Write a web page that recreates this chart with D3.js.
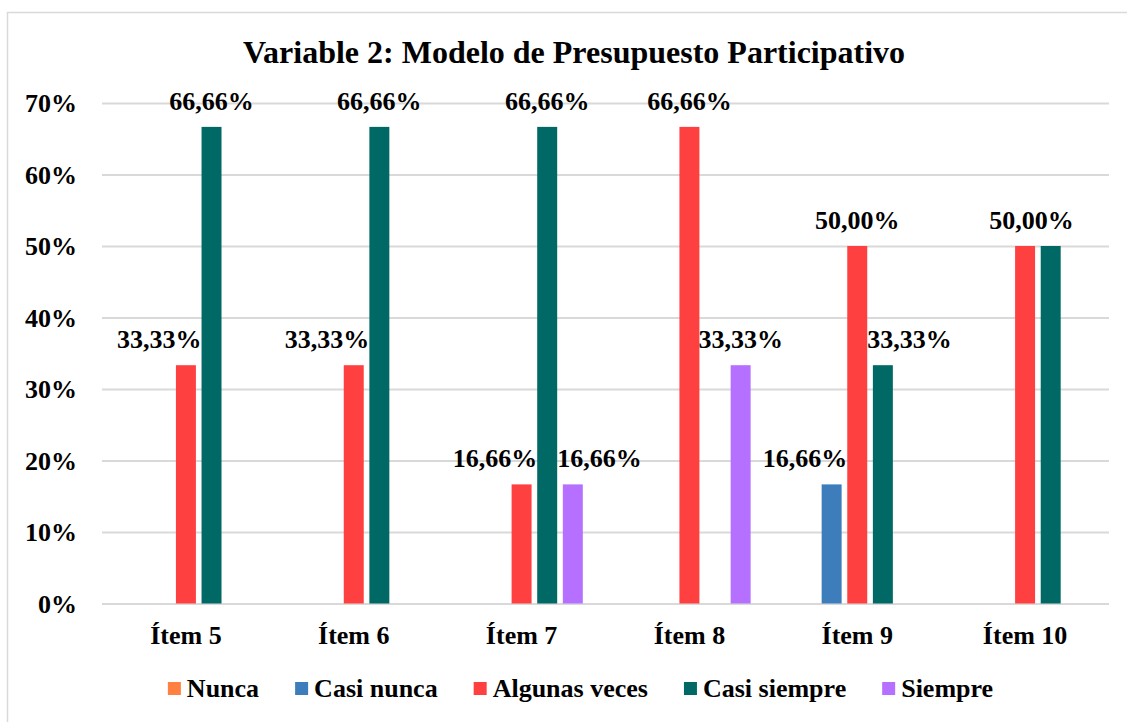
<!DOCTYPE html>
<html>
<head>
<meta charset="utf-8">
<script src="https://cdn.jsdelivr.net/npm/d3@7"></script>
<style>
  body { margin: 0; background: #fff; }
  svg { display: block; font-family: 'Liberation Serif', 'Times New Roman', serif; font-weight: bold; }
</style>
</head>
<body>
<div id="app"></div>
<script>
'use strict'

const title = 'Variable 2: Modelo de Presupuesto Participativo';
const items = ['Ítem 5', 'Ítem 6', 'Ítem 7', 'Ítem 8', 'Ítem 9', 'Ítem 10'];
const seriesNames = ['Nunca', 'Casi nunca', 'Algunas veces', 'Casi siempre', 'Siempre'];
const seriesColors = ['#FF8040', '#3E7DBC', '#FF4040', '#006966', '#B570FF'];

// percentages per item
const nunca        = [0, 0, 0, 0, 0, 0];
const casiNunca    = [0, 0, 0, 0, 16.66, 0];
const algunasVeces = [33.33, 33.33, 16.66, 66.66, 50.00, 50.00];
const casiSiempre  = [66.66, 66.66, 66.66, 0, 33.33, 50.00];
const siempre      = [0, 0, 16.66, 33.33, 0, 0];

const yTicks = [0, 10, 20, 30, 40, 50, 60, 70];

const seriesValues = [nunca, casiNunca, algunasVeces, casiSiempre, siempre];

const width = 1127;
const height = 722;
const plot = {left: 102, right: 1109, top: 103, bottom: 603.5};

const svg = (
  d3.select('#app')
    .append('svg')
    .attr('width', width)
    .attr('height', height));

// chart frame
(svg.append('rect')
  .attr('x', 7.5)
  .attr('y', 12.5)
  .attr('width', width + 20)
  .attr('height', height + 20)
  .attr('fill', '#fff')
  .attr('stroke', '#d9d9d9')
  .attr('stroke-width', 1.5));

(svg.append('text')
  .attr('x', 574)
  .attr('y', 63)
  .attr('text-anchor', 'middle')
  .attr('font-size', 32)
  .text(title));

const y = d3.scaleLinear().domain([0, 70]).range([plot.bottom, plot.top]);
const x0 = (d3.scaleBand()
  .domain(items)
  .range([plot.left, plot.right])
  .paddingInner(0.237)
  .paddingOuter(0.1185));
const x1 = (d3.scaleBand()
  .domain(seriesNames)
  .range([0, x0.bandwidth()])
  .paddingInner(0.22)
  .paddingOuter(0.11));
const color = d3.scaleOrdinal().domain(seriesNames).range(seriesColors);

// Gridlines + y tick labels
const yAxis = (svg.append('g')
  .attr('transform', `translate(${plot.left},0)`)
  .call(d3.axisLeft(y)
    .tickValues(yTicks)
    .tickSize(-(plot.right - plot.left))
    .tickPadding(25)
    .tickFormat((d) => `${d}%`)));
yAxis.attr('font-family', null).attr('font-size', 26);
yAxis.select('.domain').remove();
yAxis.selectAll('.tick line').attr('stroke', '#d9d9d9').attr('stroke-width', 2);
(yAxis.selectAll('.tick text')
  .attr('fill', '#000')
  .attr('dy', '0.34em'));

// x labels
const xAxis = (svg.append('g')
  .attr('transform', `translate(0,${plot.bottom})`)
  .call(d3.axisBottom(x0).tickSize(0).tickPadding(0)));
xAxis.attr('font-family', null).attr('font-size', 26);
xAxis.select('.domain').remove();
(xAxis.selectAll('.tick text')
  .attr('fill', '#000')
  .attr('dy', 0)
  .attr('y', 40));

// Bars
const rows = [];
items.forEach((item, i) => {
  seriesNames.forEach((name, s) => {
    rows.push({item, name, s, i, value: seriesValues[s][i]});
  });
});

(svg.append('g')
  .selectAll('rect')
    .data(rows.filter((d) => d.value > 0))
  .enter()
    .append('rect')
      .attr('x', (d) => x0(d.item) + x1(d.name))
      .attr('y', (d) => y(d.value))
      .attr('width', x1.bandwidth())
      .attr('height', (d) => y(0) - y(d.value))
      .attr('fill', (d) => color(d.name)));

// Data labels, nudged away from a taller neighbour bar
const fmt = (v) => d3.format('.2f')(v).replace('.', ',') + '%';
const labels = [];
rows.forEach((d) => {
  if (d.value <= 0) return;
  const left = d.s > 0 ? seriesValues[d.s - 1][d.i] : 0;
  const right = d.s < seriesNames.length - 1 ? seriesValues[d.s + 1][d.i] : 0;
  if (left === d.value) return; // equal pair shares one label
  let cx = x0(d.item) + x1(d.name) + x1.bandwidth() / 2;
  let shift = 0;
  if (right === d.value) cx += x1.step() / 4;
  else if (right > d.value) shift = -1;
  else if (left > d.value) shift = 1;
  labels.push({cx, shift, value: d.value});
});

const labelSel = (svg.append('g')
  .selectAll('text')
    .data(labels)
  .enter()
    .append('text')
      .attr('text-anchor', 'middle')
      .attr('font-size', 26)
      .attr('y', (d) => y(d.value) - 17)
      .text((d) => fmt(d.value)));
labelSel.attr('x', function(d) {
  const half = this.getComputedTextLength() / 2;
  const clear = half - (x1.step() - x1.bandwidth() / 2);
  return d.cx + d.shift * clear;
});

// Legend
const legend = svg.append('g').attr('transform', 'translate(0,697)');
const entries = (legend.selectAll('g')
  .data(seriesNames)
  .enter()
    .append('g'));
(entries.append('rect')
  .attr('y', -15)
  .attr('width', 13)
  .attr('height', 13)
  .attr('fill', (d) => color(d)));
(entries.append('text')
  .attr('x', 19)
  .attr('font-size', 26)
  .text((d) => d));
let widths = [];
entries.select('text').each(function() { widths.push(19 + this.getComputedTextLength()); });
const gap = 36;
const total = d3.sum(widths) + gap * (widths.length - 1);
let cursor = 580.5 - total / 2;
entries.attr('transform', (d, i) => {
  const t = `translate(${cursor},0)`;
  cursor += widths[i] + gap;
  return t;
});
</script>
</body>
</html>
